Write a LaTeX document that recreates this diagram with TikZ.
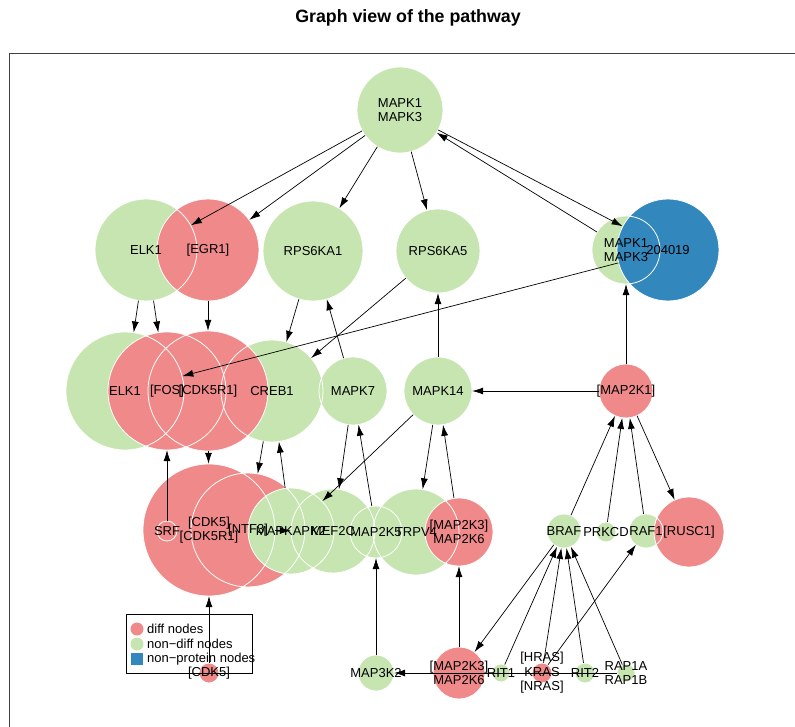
\documentclass[tikz,border=0pt]{standalone}
\usepackage{fontspec}
\setmainfont{Liberation Sans}
\usetikzlibrary{arrows.meta}
\definecolor{diff}{RGB}{240,137,137}
\definecolor{nondiff}{RGB}{199,229,176}
\definecolor{nonprot}{RGB}{50,136,189}
\pgfdeclarelayer{fills}
\pgfdeclarelayer{rims}
\pgfsetlayers{fills,rims,main}
\tikzset{
  vx/.style={circle, inner sep=0pt, minimum size=2*#1pt},
  lbl/.style={font=\fontsize{13}{14.5}\selectfont, align=center, inner sep=0pt},
  rim/.style={draw=white, line width=0.8pt},
  arr/.style={-{Latex[length=11pt,width=7pt]}, line width=0.7pt},
  key/.style={font=\fontsize{13}{14}\selectfont, anchor=west, inner sep=0pt},
}
% name, x, y, radius, colour, text
\newcommand\vtx[6]{%
  \node[vx=#4, label={[lbl]center:{#6}}] (#1) at (#2,#3) {};
  \begin{pgfonlayer}{fills}\fill[#5] (#1.center) circle [radius=#4pt];\end{pgfonlayer}
  \begin{pgfonlayer}{rims}\draw[rim] (#1.center) circle [radius=#4pt];\end{pgfonlayer}
}

\begin{document}
\begin{tikzpicture}[x=1pt, y=-1pt]
			\useasboundingbox (0,0) rectangle (795,727);
			
			\node[font=\bfseries\fontsize{17.8}{20}\selectfont] (title) at (408,18) {Graph view of the pathway};
			\draw[line width=1pt, black!75] (9,54) rectangle (820,760);
			
			%%%%% vertices %%%%%
			\vtx{mapkTop}{400}{110}{43}{nondiff}{MAPK1\\MAPK3}
			
			\vtx{elkA}{146}{250}{51}{nondiff}{ELK1}
			\vtx{egr1}{208}{250}{51}{diff}{[EGR1]}
			\vtx{rpsA}{313}{251}{50}{nondiff}{RPS6KA1}
			\vtx{rpsB}{438}{251}{42}{nondiff}{RPS6KA5}
			\vtx{mapkR}{626}{250}{34}{nondiff}{MAPK1\\MAPK3}
			\vtx{gene204019}{668}{250}{51}{nonprot}{204019}
			
			\vtx{elkB}{125}{391}{59}{nondiff}{ELK1}
			\vtx{creb1}{272}{391}{51}{nondiff}{CREB1}
			\vtx{fos}{167}{391}{59}{diff}{[FOS]}
			\vtx{cdk5r1}{208}{391}{60}{diff}{[CDK5R1]}
			\vtx{mapk7}{353}{391}{34}{nondiff}{MAPK7}
			\vtx{mapk14}{438}{391}{34}{nondiff}{MAPK14}
			\vtx{map2k1}{626}{391}{27}{diff}{[MAP2K1]}
			
			\vtx{srf}{167}{531}{10}{nondiff}{SRF}
			\vtx{cdk5}{209}{530}{66}{diff}{[CDK5]\\{}[CDK5R1]}
			\vtx{ntf3}{248}{530}{57}{diff}{[NTF3]}
			\vtx{mapkapk2}{291}{531}{43}{nondiff}{MAPKAPK2}
			\vtx{mef2c}{333}{531}{42}{nondiff}{MEF2C}
			\vtx{map2k5}{376}{532}{26}{nondiff}{MAP2K5}
			\vtx{trpv4}{416}{532}{43}{nondiff}{TRPV4}
			\vtx{map2k36A}{459}{532}{34}{diff}{[MAP2K3]\\MAP2K6}
			\vtx{braf}{564}{531}{17}{nondiff}{BRAF}
			\vtx{prkcd}{606}{532}{10}{nondiff}{PRKCD}
			\vtx{raf1}{646}{531}{17}{nondiff}{RAF1}
			\vtx{rusc1}{689}{532}{35}{diff}{[RUSC1]}
			
			\vtx{map3k2}{376}{673}{18}{nondiff}{MAP3K2}
			\vtx{map2k36B}{459}{673}{26}{diff}{[MAP2K3]\\MAP2K6}
			\vtx{rit1}{501}{673}{9}{nondiff}{RIT1}
			\vtx{ras}{542}{673}{10}{diff}{[HRAS]\\KRAS\\{}[NRAS]}
			\vtx{rit2}{585}{673}{10}{nondiff}{RIT2}
			\vtx{rap1}{626}{673}{9}{nondiff}{RAP1A\\RAP1B}
			\vtx{cdk5B}{209}{673}{10}{diff}{[CDK5]}
			
			%%%%% edges %%%%%
			\draw[arr] (mapkTop) -- (elkA);
			\draw[arr] (mapkTop) -- (egr1);
			\draw[arr] (mapkTop) -- (rpsA);
			\draw[arr] (mapkTop) -- (rpsB);
			\draw[arr] (mapkTop) -- (gene204019);
			\draw[arr] (mapkR) -- (mapkTop);
			\draw[arr] (gene204019) -- (elkB);
			
			\draw[arr] (elkA) -- (elkB);
			\draw[arr] (elkA) -- (fos);
			\draw[arr] (egr1) -- (cdk5r1);
			\draw[arr] (rpsA) -- (creb1);
			\draw[arr] (rpsB) -- (creb1);
			\draw[arr] (mapk7) -- (rpsA);
			\draw[arr] (mapk14) -- (rpsB);
			\draw[arr] (map2k1) -- (mapk14);
			\draw[arr] (map2k1) -- (mapkR);
			
			\draw[arr] (srf) -- (fos);
			\draw[arr] (cdk5r1) -- (cdk5);
			\draw[arr] (creb1) -- (ntf3);
			\draw[arr] (mapkapk2) -- (creb1);
			\draw[arr] (mapk7) -- (mef2c);
			\draw[arr] (map2k5) -- (mapk7);
			\draw[arr] (mapk14) -- (mapkapk2);
			\draw[arr] (mapk14) -- (trpv4);
			\draw[arr] (map2k36A) -- (mapk14);
			\draw[arr] (cdk5) -- (mef2c);
			
			\draw[arr] (braf) -- (map2k1);
			\draw[arr] (prkcd) -- (map2k1);
			\draw[arr] (raf1) -- (map2k1);
			\draw[arr] (map2k1) -- (rusc1);
			
			\draw[arr] (braf) -- (map2k36B);
			\draw[arr] (rit1) -- (braf);
			\draw[arr] (ras) -- (braf);
			\draw[arr] (rit2) -- (braf);
			\draw[arr] (rap1) -- (braf);
			\draw[arr] (ras) -- (raf1);
			\draw[arr] (rap1) -- (map3k2);
			\draw[arr] (map3k2) -- (map2k5);
			\draw[arr] (map2k36B) -- (map2k36A);
			\draw[arr] (cdk5B) -- (cdk5);
			
			%%%%% legend %%%%%
			\draw[line width=0.8pt] (126,614) rectangle (252,673);
			\fill[diff] (137,629) circle [radius=6.5pt];
			\fill[nondiff] (137,644) circle [radius=6.5pt];
			\fill[nonprot] (131,653) rectangle (143,665);
			\node[key] (keyDiff) at (147,629) {diff nodes};
			\node[key] (keyNon) at (147,644) {non−diff nodes};
			\node[key] (keyProt) at (147,659) {non−protein nodes};
		\end{tikzpicture}
\end{document}
